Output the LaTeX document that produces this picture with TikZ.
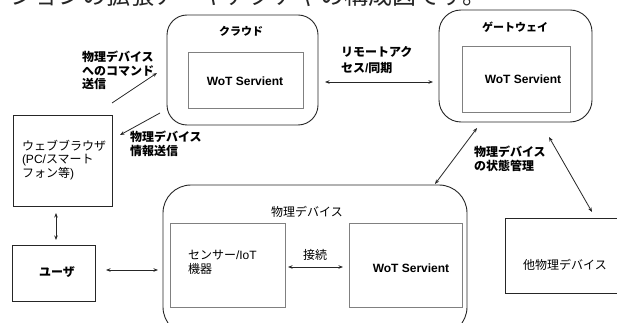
\documentclass[tikz,border=0pt]{standalone}
\usepackage{fontspec}
\setmainfont{Noto Sans CJK JP}
\newfontfamily\lat{Liberation Sans}
\usetikzlibrary{arrows.meta}
\begin{document}
\begin{tikzpicture}[x=1pt,y=-1pt,
  every node/.style={inner sep=0pt,outer sep=0pt},
  group/.style={draw=black!85,line width=0.9pt,rounded corners=#1,anchor=north west},
  group/.default=20pt,
  plain/.style={draw=black!85,line width=0.9pt,anchor=north west},
  inner/.style={draw=black!50,line width=0.9pt,anchor=north west},
  lbl/.style={font=\fontsize{12pt}{13.5pt}\selectfont\bfseries,align=left,anchor=north west},
  txt/.style={font=\fontsize{12pt}{13.5pt}\selectfont,align=left},
  ws/.style={font=\fontsize{12pt}{14pt}\selectfont\lat\bfseries},
  tip/.style={-{Stealth[length=4.5pt,width=3.5pt]}},
  dbl/.style={{Stealth[length=4.5pt,width=3.5pt]}-{Stealth[length=4.5pt,width=3.5pt]}},
  link/.style={line width=0.8pt,draw=black!85}]
\useasboundingbox (0,0) rectangle (617,323);
\clip (0,0) rectangle (617,323);
\fill[white] (0,0) rectangle (617,323);

% heading line above the diagram (only its lower part is in view)
\node[anchor=base east,font=\fontsize{24pt}{26pt}\selectfont,text=black!85] (head) at (486,4.5)
  {ションの拡張アーキテクチャの構成図です。};

% cloud
\node[group,minimum width=151pt,minimum height=110pt] (cloud) at (167,15) {};
\node[font=\fontsize{11pt}{13pt}\selectfont\bfseries] (cloudt) at (241,31) {クラウド};
\node[inner,minimum width=115pt,minimum height=56pt] (cws) at (188,52) {};
\node[ws] (cwst) at (245,81) {WoT Servient};

% gateway
\node[group=22pt,minimum width=153pt,minimum height=112pt] (gateway) at (439,10) {};
\node[font=\fontsize{11pt}{13pt}\selectfont\bfseries] (gatewayt) at (515,27) {ゲートウェイ};
\node[inner,minimum width=108pt,minimum height=66pt] (gws) at (462,46) {};
\node[ws] (gwst) at (523,79) {WoT Servient};

% web browser
\node[plain,minimum width=99pt,minimum height=91pt] (browser) at (13,115) {};
\node[txt,anchor=north west] (browsert) at (22,140)
  {ウェブブラウザ\\{\lat (PC/}スマート\\フォン等{\lat )}};

% user
\node[plain,minimum width=83pt,minimum height=56pt] (user) at (12,245) {};
\node[font=\fontsize{12pt}{14pt}\selectfont\bfseries] (usert) at (57,272) {ユーザ};

% physical device
\node[group=28pt,minimum width=304pt,minimum height=150pt] (phys) at (163,185) {};
\node[txt] (physt) at (307,212) {物理デバイス};
\node[inner,minimum width=115pt,minimum height=84pt] (sensor) at (170,223) {};
\node[txt,anchor=north west,font=\fontsize{12pt}{14pt}\selectfont] (sensort) at (188,250)
  {センサー{\lat /IoT}\\機器};
\node[inner,minimum width=113pt,minimum height=84pt] (pws) at (349,223) {};
\node[ws] (pwst) at (411,268) {WoT Servient};
\node[txt] (conn) at (315,255) {接続};

% other physical device
\node[plain,minimum width=120pt,minimum height=75pt] (other) at (505,218) {};
\node[txt] (othert) at (565,265) {他物理デバイス};

% connector labels
\node[lbl] (cmdl) at (82,51) {物理デバイス\\へのコマンド\\送信};
\node[lbl] (infol) at (130,131) {物理デバイス\\情報送信};
\node[lbl,font=\fontsize{12pt}{16.5pt}\selectfont\bfseries] (syncl) at (341,46) {リモートアク\\セス{\lat /}同期};
\node[lbl] (statel) at (474,146) {物理デバイス\\の状態管理};

% connectors
\coordinate (cmdtail) at (112,103);
\draw[link,tip] (cmdtail) -- ([xshift=-10pt,yshift=-3pt]cloud.west);
\draw[link,tip] ([xshift=-7pt,yshift=-43pt]cloud.west) -- ([xshift=8pt,yshift=-20pt]browser.north east);
\draw[link,dbl] ([xshift=7pt,yshift=-12pt]cloud.east) -- ([xshift=-6pt,yshift=-16pt]gateway.west);
\draw[link,dbl] ([xshift=-38.5pt,yshift=-6pt]gateway.south) -- ([xshift=120pt,yshift=1pt]phys.north);
\draw[link,dbl] ([xshift=33.5pt,yshift=-15pt]gateway.south) -- ([xshift=27pt,yshift=6pt]other.north);
\draw[link,dbl] ([xshift=-6.5pt,yshift=-7pt]browser.south) -- ([xshift=2.5pt,yshift=5pt]user.north);
\draw[link,dbl] ([xshift=11pt,yshift=3pt]user.east) -- ([xshift=-5pt,yshift=-10pt]phys.west);
\draw[link,dbl] ([xshift=3pt,yshift=-2pt]sensor.east) -- ([xshift=-6pt,yshift=-2pt]pws.west);
\end{tikzpicture}
\end{document}
